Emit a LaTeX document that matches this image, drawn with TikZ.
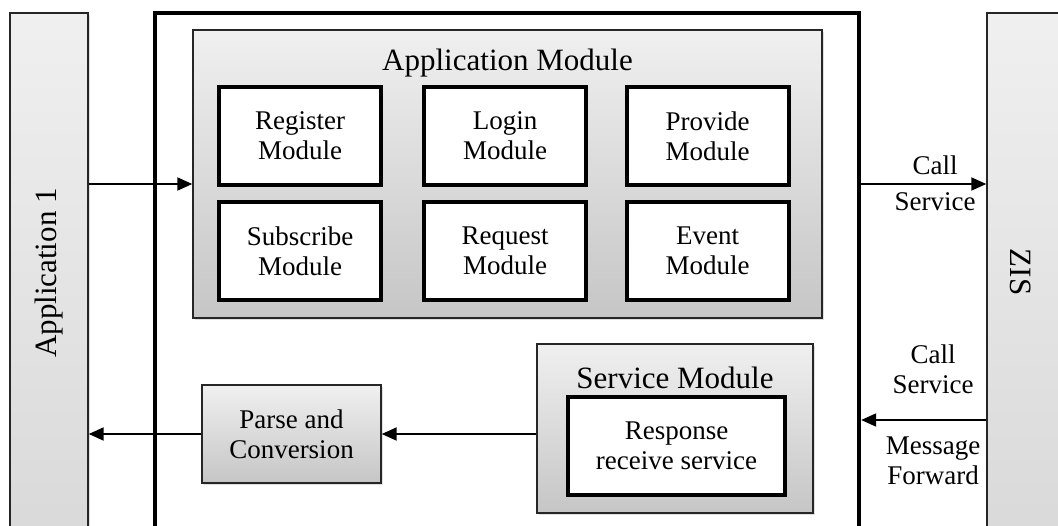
\documentclass[tikz,border=0pt]{standalone}
\usepackage{fontspec}
\setmainfont{Liberation Serif}
\usetikzlibrary{positioning}
\usetikzlibrary{arrows.meta,shadows}
\newcommand{\modfont}{\fontsize{13.5}{15}\selectfont}
\newcommand{\titlefont}{\fontsize{15.5}{18}\selectfont}
\tikzset{
  bar/.style={draw=black!85, line width=0.7pt, top color=gray!12, bottom color=gray!30,
    drop shadow={opacity=0.25, shadow xshift=1pt, shadow yshift=-1pt}},
  greybox/.style={draw=black!85, line width=0.7pt, top color=gray!12, bottom color=gray!45,
    drop shadow={opacity=0.25, shadow xshift=1pt, shadow yshift=-1pt}},
  modbox/.style={draw, line width=2pt, fill=white, align=center, font=\modfont,
    minimum width=81pt, minimum height=49pt},
  arr/.style={line width=1pt, -{Triangle[length=7.5pt,width=6.5pt]}},
  lbl/.style={align=center, font=\modfont, inner sep=0pt}
}

\begin{document}
\begin{tikzpicture}[x=0.5pt,y=-0.5pt]
            \clip (0,0) rectangle (1058,525);
            % side bars and the outer frame
            \node[bar, minimum width=39pt, minimum height=266pt] (app1) at (49,279) {};
            \node[bar, minimum width=41pt, minimum height=266pt] (zis) at (1028,279) {};
            \node[rotate=90, font=\titlefont] (app1txt) at (49,273) {Application 1};
            \node[rotate=-90, font=\titlefont] (zistxt) at (1021,272) {ZIS};
            \node[draw, line width=2.2pt, minimum width=352pt, minimum height=266pt] (core) at (507,279) {};

            % Application Module
            \node[greybox, minimum width=314.5pt, minimum height=144pt] (appmod) at (507.5,174) {};
            \node[font=\titlefont] (appmodtxt) at (507.5,63) {Application Module};
            \node[modbox] (register) at (300,136) {Register\\Module};
            \node[modbox] (login) at (505,136) {Login\\Module};
            \node[modbox] (provide) at (707.5,136) {Provide\\Module};
            \node[modbox] (subscribe) at (300,251) {Subscribe\\Module};
            \node[modbox] (request) at (505,251) {Request\\Module};
            \node[modbox] (event) at (707.5,251) {Event\\Module};

            % Service Module
            \node[greybox, minimum width=138pt, minimum height=84.5pt] (srvmod) at (675,428.5) {};
            \node[font=\titlefont] (srvmodtxt) at (675,378) {Service Module};
            \node[modbox, minimum width=108.5pt] (response) at (676.5,446) {Response\\receive service};

            % Parse and Conversion
            \node[greybox, align=center, font=\modfont, minimum width=89.5pt, minimum height=49pt] (parse) at (291.5,434) {Parse and\\Conversion};

            % connectors
            \coordinate (topline) at (0,184);
            \coordinate (botline) at (0,420);
            \draw[arr] (app1.east |- topline) -- (appmod.west |- topline);
            \draw[arr] (core.east |- topline) -- (zis.west |- topline);
            \draw[arr] (zis.west |- botline) -- (core.east |- botline);
            \draw[arr] (srvmod.west |- parse) -- (parse.east);
            \draw[arr] (parse.west) -- (app1.east |- parse);

            % connector labels
            \node[lbl] (callup) at (935,183) {Call\\[3pt]Service};
            \node[lbl] (calldown) at (933,369) {Call\\Service};
            \node[lbl] (msgfwd) at (933,461) {Message\\Forward};
        \end{tikzpicture}
\end{document}
